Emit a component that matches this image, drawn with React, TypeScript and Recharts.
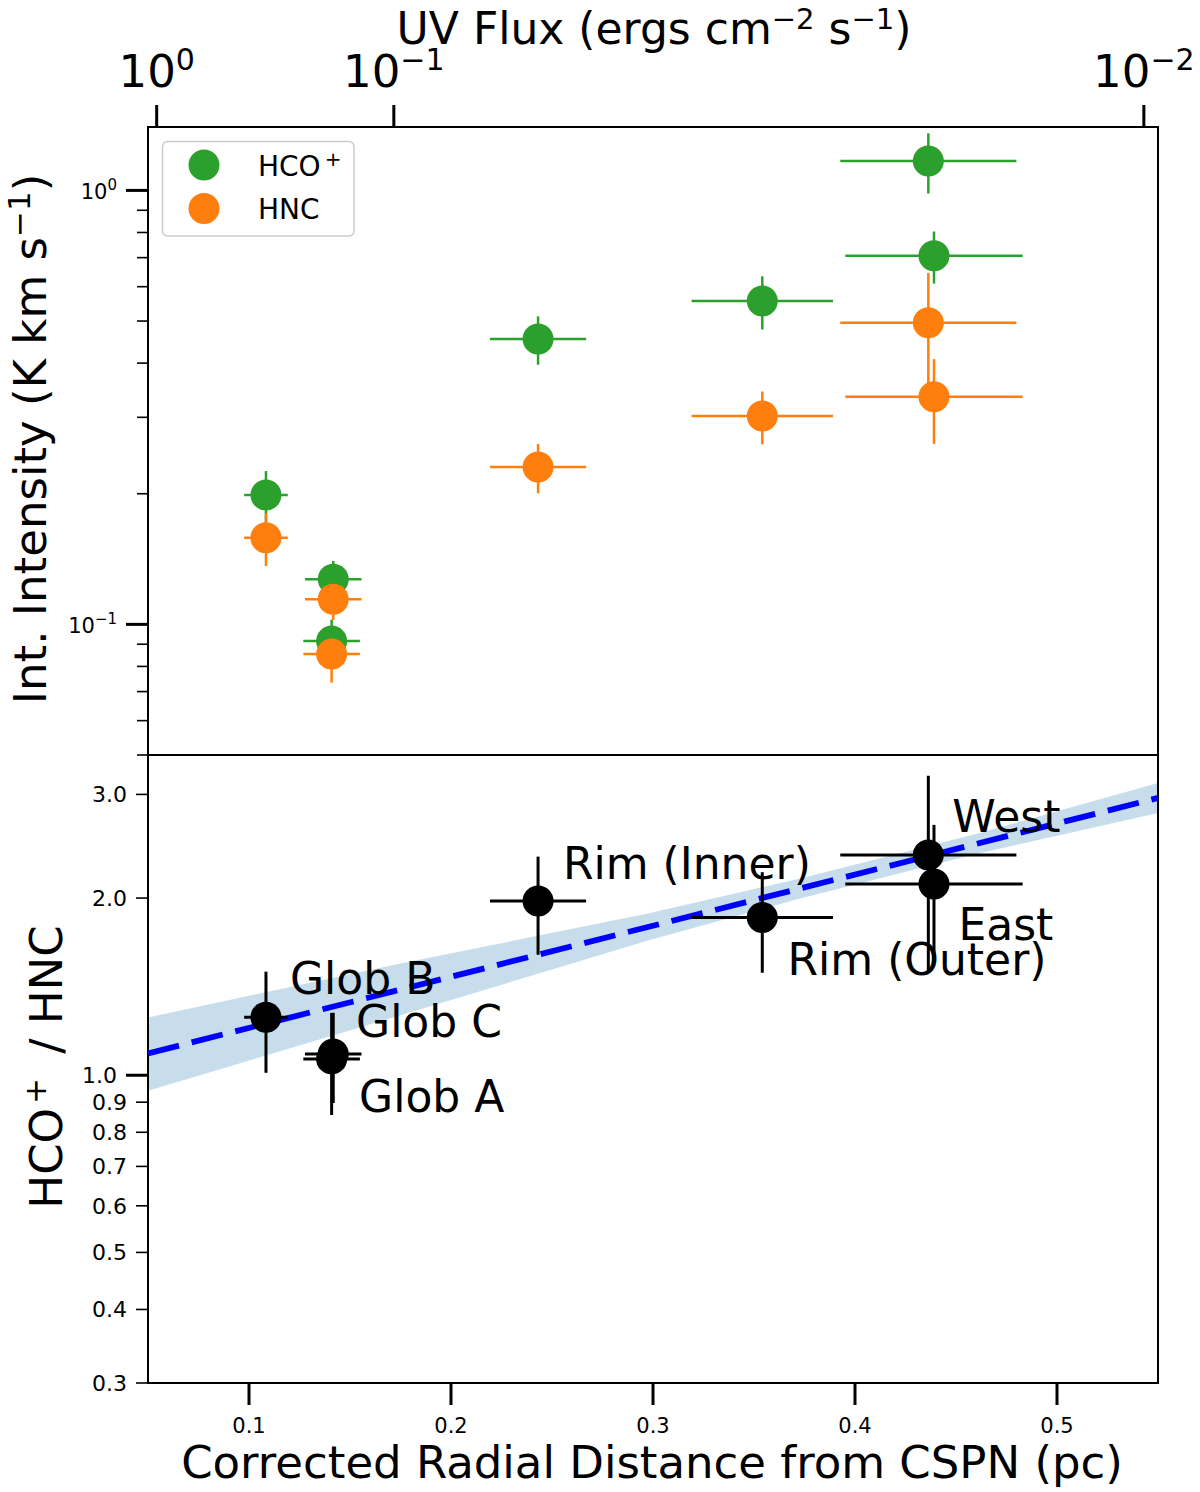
import React from 'react';
import {
  ComposedChart,
  Scatter,
  Line,
  Area,
  XAxis,
  YAxis,
  ErrorBar,
  ReferenceArea,
  ReferenceDot,
} from 'recharts';

const FONT = '"DejaVu Sans", sans-serif';
const GREEN = '#2ca02c';
const ORANGE = '#ff7f0e';

// regions, in the order of the distance list
const regions = ['Glob B', 'Glob C', 'Glob A', 'Rim (Inner)', 'Rim (Outer)', 'West', 'East'];
const distance = [0.1084, 0.1417, 0.1409, 0.2431, 0.3541, 0.4363, 0.4391];
const distanceErr = [0.0108, 0.014, 0.014, 0.0238, 0.035, 0.0436, 0.0439];

const hcoIntensity = [0.1986, 0.127, 0.0915, 0.4546, 0.556, 1.169, 0.707];
const hcoErr = [0.027, 0.013, 0.011, 0.058, 0.078, 0.185, 0.097];
const hncIntensity = [0.1583, 0.1143, 0.0854, 0.2305, 0.302, 0.4955, 0.3346];
const hncErr = [0.022, 0.012, 0.012, 0.03, 0.042, 0.15, 0.074];

const ratio = [1.2546, 1.087, 1.066, 1.977, 1.853, 2.367, 2.113];
const ratioErr = [0.245, 0.19, 0.21, 0.375, 0.36, 0.86, 0.55];

// fit and its shaded band
const fitX = [0.05, 0.55];
const fitRatio = [1.089, 2.959];
const bandX = [0.05, 0.1738, 0.2975, 0.3728, 0.4603, 0.55];
const bandLow = [0.9415, 1.261, 1.694, 1.997, 2.378, 2.79];
const bandHigh = [1.254, 1.545, 1.883, 2.16, 2.572, 3.138];

// where each region name is written (left end of baseline, data units)
const labelX = [0.1203, 0.153, 0.1545, 0.2554, 0.3666, 0.4482, 0.4512];
const labelY = [1.374, 1.163, 0.867, 2.157, 1.48, 2.594, 1.698];

// ticks
const distanceTicks = [0.1, 0.2, 0.3, 0.4, 0.5];
const intensityTicks = [0.05, 0.06, 0.07, 0.08, 0.09, 0.1, 0.2, 0.3, 0.4, 0.5, 0.6, 0.7, 0.8, 0.9, 1];
const intensityMajor = [0.1, 1];
const intensityMajorLabel = ['−1', '0'];
const ratioTicks = [0.3, 0.4, 0.5, 0.6, 0.7, 0.8, 0.9, 1.0, 2.0, 3.0];
const ratioMajor = [1.0];
const uvFluxExponent = ['0', '−1', '−2'];
const uvFluxRadius = [0.0543, 0.1717, 0.543];

const hcoData = distance.map((x, i) => ({ x, y: hcoIntensity[i], xErr: distanceErr[i], yErr: hcoErr[i] }));
const hncData = distance.map((x, i) => ({ x, y: hncIntensity[i], xErr: distanceErr[i], yErr: hncErr[i] }));
const ratioData = distance.map((x, i) => ({ x, y: ratio[i], xErr: distanceErr[i], yErr: ratioErr[i] }));
const fitData = fitX.map((x, i) => ({ x, y: fitRatio[i] }));
const bandData = bandX.map((x, i) => ({ x, band: [bandLow[i], bandHigh[i]] }));

const dot = (color: string) => (p: any) => <circle cx={p.cx} cy={p.cy} r={15.5} fill={color} />;
const noDot = () => <g />;

const UvTick = (props: any) => {
  const { x, y, payload } = props;
  const i = uvFluxRadius.indexOf(payload.value);
  return (
    <g>
      <line x1={x} x2={x} y1={y} y2={y - 22} stroke="#000" strokeWidth={3} />
      <text x={x} y={y - 40} textAnchor="middle" fontSize={45} fontFamily={FONT} fill="#000">
        10<tspan dy={-17} fontSize={30}>{uvFluxExponent[i]}</tspan>
      </text>
    </g>
  );
};

const IntensityTick = (props: any) => {
  const { x, y, payload } = props;
  const k = intensityMajor.indexOf(payload.value);
  const major = k >= 0;
  const len = major ? 22 : 11;
  return (
    <g>
      <line x1={x - len} x2={x} y1={y} y2={y} stroke="#000" strokeWidth={major ? 3 : 1.6} />
      {major && (
        <text x={x - len - 9} y={y + 9} textAnchor="end" fontSize={21} fontFamily={FONT} fill="#000">
          10<tspan dy={-9} fontSize={15}>{intensityMajorLabel[k]}</tspan>
        </text>
      )}
    </g>
  );
};

const RatioTick = (props: any) => {
  const { x, y, payload } = props;
  const major = ratioMajor.includes(payload.value);
  const len = major ? 22 : 12;
  return (
    <g>
      <line x1={x - len} x2={x} y1={y} y2={y} stroke="#000" strokeWidth={major ? 3 : 1.6} />
      <text x={x - len - 9} y={y + 8} textAnchor="end" fontSize={22} fontFamily={FONT} fill="#000">
        {payload.value.toFixed(1)}
      </text>
    </g>
  );
};

const DistanceTick = (props: any) => {
  const { x, y, payload } = props;
  return (
    <g>
      <line x1={x} x2={x} y1={y} y2={y + 22} stroke="#000" strokeWidth={3} />
      <text x={x} y={y + 50} textAnchor="middle" fontSize={21} fontFamily={FONT} fill="#000">
        {payload.value.toFixed(1)}
      </text>
    </g>
  );
};

const regionLabel = (name: string) => (p: any) => (
  <text x={p.cx} y={p.cy} fontSize={44} fontFamily={FONT} fill="#000">
    {name}
  </text>
);

export default function App() {
  return (
    <div style={{ position: 'absolute', left: 0, top: 0, width: 1200, height: 1492, background: '#fff' }}>
      <div style={{ position: 'absolute', left: 0, top: 0 }}>
        <ComposedChart width={1200} height={760} margin={{ top: 0, right: 42, bottom: 5, left: 0 }}>
          <XAxis
            type="number"
            dataKey="x"
            orientation="top"
            domain={[0.05, 0.55]}
            allowDataOverflow
            ticks={uvFluxRadius}
            interval={0}
            height={127}
            tickSize={0}
            tickMargin={0}
            tickLine={false}
            axisLine={false}
            tick={<UvTick />}
          />
          <YAxis
            type="number"
            dataKey="y"
            scale="log"
            domain={[0.05, 1.4]}
            allowDataOverflow
            ticks={intensityTicks}
            interval={0}
            width={148}
            tickSize={0}
            tickMargin={0}
            tickLine={false}
            axisLine={false}
            tick={<IntensityTick />}
          />
          <Scatter data={hcoData} shape={noDot} isAnimationActive={false}>
            <ErrorBar dataKey="xErr" direction="x" width={0} stroke={GREEN} strokeWidth={2.5} isAnimationActive={false} />
            <ErrorBar dataKey="yErr" direction="y" width={0} stroke={GREEN} strokeWidth={2.5} isAnimationActive={false} />
          </Scatter>
          <Scatter data={hncData} shape={noDot} isAnimationActive={false}>
            <ErrorBar dataKey="xErr" direction="x" width={0} stroke={ORANGE} strokeWidth={2.5} isAnimationActive={false} />
            <ErrorBar dataKey="yErr" direction="y" width={0} stroke={ORANGE} strokeWidth={2.5} isAnimationActive={false} />
          </Scatter>
          <Scatter data={hcoData} shape={dot(GREEN)} isAnimationActive={false} />
          <Scatter data={hncData} shape={dot(ORANGE)} isAnimationActive={false} />
          <ReferenceArea x1={0.05} x2={0.55} y1={0.05} y2={1.4} fill="none" stroke="#000" strokeWidth={2} />
        </ComposedChart>
      </div>

      <div style={{ position: 'absolute', left: 0, top: 755 }}>
        <ComposedChart width={1200} height={737} margin={{ top: 0, right: 42, bottom: 0, left: 0 }}>
          <XAxis
            type="number"
            dataKey="x"
            domain={[0.05, 0.55]}
            allowDataOverflow
            ticks={distanceTicks}
            interval={0}
            height={109}
            tickSize={0}
            tickMargin={0}
            tickLine={false}
            axisLine={false}
            tick={<DistanceTick />}
          />
          <YAxis
            type="number"
            dataKey="y"
            scale="log"
            domain={[0.3, 3.5]}
            allowDataOverflow
            ticks={ratioTicks}
            interval={0}
            width={148}
            tickSize={0}
            tickMargin={0}
            tickLine={false}
            axisLine={false}
            tick={<RatioTick />}
          />
          <Area data={bandData} dataKey="band" stroke="none" fill="#1f77b4" fillOpacity={0.25} isAnimationActive={false} />
          <Line
            data={fitData}
            dataKey="y"
            stroke="#0000ff"
            strokeWidth={5.8}
            strokeDasharray="32 13"
            dot={false}
            isAnimationActive={false}
          />
          <Scatter data={ratioData} shape={dot('#000')} isAnimationActive={false}>
            <ErrorBar dataKey="xErr" direction="x" width={0} stroke="#000" strokeWidth={3} isAnimationActive={false} />
            <ErrorBar dataKey="yErr" direction="y" width={0} stroke="#000" strokeWidth={3} isAnimationActive={false} />
          </Scatter>
          {regions.map((name, i) => (
            <ReferenceDot key={name} x={labelX[i]} y={labelY[i]} r={0} shape={regionLabel(name)} />
          ))}
          <ReferenceArea x1={0.05} x2={0.55} y1={0.3} y2={3.5} fill="none" stroke="#000" strokeWidth={2} />
        </ComposedChart>
      </div>

      <svg
        width={1200}
        height={1492}
        style={{ position: 'absolute', left: 0, top: 0, pointerEvents: 'none' }}
        fontFamily={FONT}
        fill="#000"
      >
        <text x={654} y={44} fontSize={44} textAnchor="middle">
          UV Flux (ergs cm<tspan dy={-15} fontSize={29}>−2</tspan>
          <tspan dy={15}>{' s'}</tspan>
          <tspan dy={-15} fontSize={29}>−1</tspan>
          <tspan dy={15}>)</tspan>
        </text>
        <text transform="translate(46,439) rotate(-90)" fontSize={45} textAnchor="middle">
          Int. Intensity (K km s<tspan dy={-16} fontSize={31}>−1</tspan>
          <tspan dy={16}>)</tspan>
        </text>
        <text transform="translate(62,1067) rotate(-90)" fontSize={45} textAnchor="middle">
          HCO<tspan dx={4} dy={-16} fontSize={31}>+</tspan>
          <tspan dx={10} dy={16}>{' / HNC'}</tspan>
        </text>
        <text x={652} y={1478} fontSize={45} textAnchor="middle">
          Corrected Radial Distance from CSPN (pc)
        </text>

        <rect x={162.5} y={141.5} width={191.5} height={94.5} rx={5} fill="#fff" fillOpacity={0.8} stroke="#cccccc" strokeWidth={1.5} />
        <circle cx={204} cy={165} r={15.5} fill={GREEN} />
        <text x={258} y={176} fontSize={28}>
          HCO<tspan dx={4} dy={-10} fontSize={20}>+</tspan>
        </text>
        <circle cx={204} cy={208.5} r={15.5} fill={ORANGE} />
        <text x={258} y={219} fontSize={28}>
          HNC
        </text>
      </svg>
    </div>
  );
}
